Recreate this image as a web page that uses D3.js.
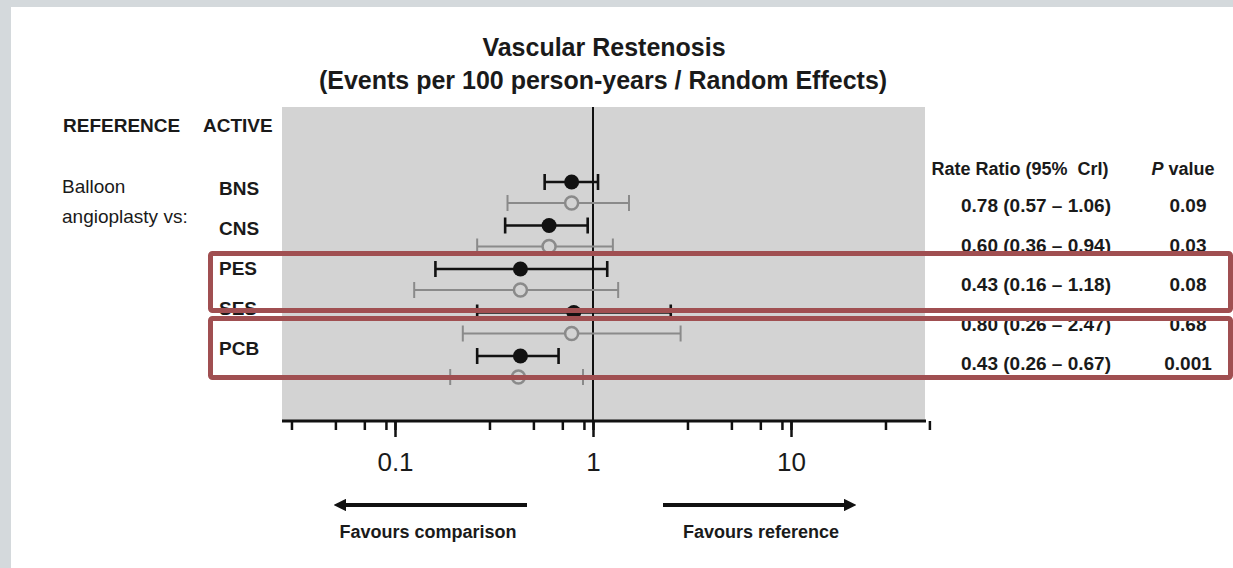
<!DOCTYPE html>
<html>
<head>
<meta charset="utf-8">
<script src="https://cdn.jsdelivr.net/npm/d3@7"></script>
<style>
  html, body { margin: 0; padding: 0; background: #fff; }
  svg { display: block; }
  text { font-family: "Liberation Sans", Arial, sans-serif; fill: #1a1a1a; }
</style>
</head>
<body>
<script>
// ---- data ----
const rows = ["BNS", "CNS", "PES", "SES", "PCB"];
const activeRR = [0.78, 0.60, 0.43, 0.80, 0.43];
const activeLo = [0.57, 0.36, 0.16, 0.26, 0.26];
const activeHi = [1.06, 0.94, 1.18, 2.47, 0.67];
const altRR = [0.78, 0.60, 0.43, 0.78, 0.42];
const altLo = [0.37, 0.26, 0.125, 0.22, 0.19];
const altHi = [1.52, 1.26, 1.34, 2.77, 0.89];
const rrText = ["0.78 (0.57 \u2013 1.06)", "0.60 (0.36 \u2013 0.94)", "0.43 (0.16 \u2013 1.18)", "0.80 (0.26 \u2013 2.47)", "0.43 (0.26 \u2013 0.67)"];
const pText = ["0.09", "0.03", "0.08", "0.68", "0.001"];
const minorTicks = [0.03, 0.05, 0.07, 0.09, 0.1, 0.3, 0.5, 0.7, 0.9, 1, 3, 5, 7, 9, 10, 30, 50];
const majorTicks = [0.1, 1, 10];
const highlightGroups = [["PES", "SES"], ["PCB"]];

// ---- layout ----
const W = 1233, H = 568;
const svg = d3.select("body").append("svg").attr("width", W).attr("height", H);

// frame strips
svg.append("rect").attr("x", 0).attr("y", 0).attr("width", W).attr("height", 7).attr("fill", "#d4d9dc");
svg.append("rect").attr("x", 0).attr("y", 0).attr("width", 11).attr("height", H).attr("fill", "#d4d9dc");

const x = d3.scaleLog().domain([0.1, 10]).range([395, 791]);
const panel = { x0: 282, x1: 925, y0: 107, y1: 421 };
const yRow = d3.scalePoint().domain(rows).range([182, 356]);
const altOffset = 21;
const yLabel = d3.scalePoint().domain(rows).range([188, 348]);
const yTable = d3.scalePoint().domain(rows).range([205, 363]);

// titles
svg.append("text").attr("x", 604).attr("y", 56).attr("text-anchor", "middle")
  .attr("font-size", 25).attr("font-weight", "bold").text("Vascular Restenosis");
svg.append("text").attr("x", 603).attr("y", 89).attr("text-anchor", "middle")
  .attr("font-size", 25).attr("font-weight", "bold").text("(Events per 100 person-years / Random Effects)");

// panel
svg.append("rect").attr("x", panel.x0).attr("y", panel.y0)
  .attr("width", panel.x1 - panel.x0).attr("height", panel.y1 - panel.y0).attr("fill", "#d3d3d3");

// left headings
svg.append("text").attr("x", 63).attr("y", 132).attr("font-size", 19).attr("font-weight", "bold").text("REFERENCE");
svg.append("text").attr("x", 203).attr("y", 132).attr("font-size", 19).attr("font-weight", "bold").text("ACTIVE");
svg.append("text").attr("x", 62).attr("y", 193).attr("font-size", 19).text("Balloon");
svg.append("text").attr("x", 62).attr("y", 223).attr("font-size", 19).text("angioplasty vs:");

svg.selectAll("text.rowlab").data(rows).enter().append("text")
  .attr("class", "rowlab")
  .attr("x", 219).attr("y", d => yLabel(d) + 7)
  .attr("font-size", 19).attr("font-weight", "bold").text(d => d);

// reference line at 1
svg.append("line").attr("x1", x(1)).attr("x2", x(1)).attr("y1", panel.y0).attr("y2", panel.y1)
  .attr("stroke", "#111").attr("stroke-width", 2);

// axis
const axisG = svg.append("g").attr("transform", `translate(0,${panel.y1})`);
axisG.append("line").attr("x1", panel.x0).attr("x2", panel.x1 + 1).attr("y1", 0).attr("y2", 0)
  .attr("stroke", "#111").attr("stroke-width", 3);
const minorAxis = d3.axisBottom(x).tickValues(minorTicks).tickSize(9).tickFormat("");
const gMinor = axisG.append("g").call(minorAxis);
gMinor.select(".domain").remove();
gMinor.selectAll(".tick line").attr("stroke", "#111").attr("stroke-width", 2.5);
const majorAxis = d3.axisBottom(x).tickValues(majorTicks).tickSize(16).tickPadding(16)
  .tickFormat(d => d3.format("~g")(d));
const gMajor = axisG.append("g").call(majorAxis);
gMajor.select(".domain").remove();
gMajor.selectAll(".tick line").attr("stroke", "#111").attr("stroke-width", 2.5);
gMajor.selectAll(".tick text")
  .style("font-family", '"Liberation Sans Narrow", "Liberation Sans", Arial, sans-serif')
  .attr("font-size", 26).attr("fill", "#222");

// error bars
function drawSeries(cls, rr, lo, hi, dy, color, sw, filled) {
  const g = svg.append("g").attr("class", cls);
  const items = rows.map((r, i) => ({ r, rr: rr[i], lo: lo[i], hi: hi[i] }));
  const cap = 8;
  g.selectAll("line.bar").data(items).enter().append("line")
    .attr("x1", d => x(d.lo)).attr("x2", d => x(d.hi))
    .attr("y1", d => yRow(d.r) + dy).attr("y2", d => yRow(d.r) + dy)
    .attr("stroke", color).attr("stroke-width", sw);
  g.selectAll("line.capL").data(items).enter().append("line")
    .attr("x1", d => x(d.lo)).attr("x2", d => x(d.lo))
    .attr("y1", d => yRow(d.r) + dy - cap).attr("y2", d => yRow(d.r) + dy + cap)
    .attr("stroke", color).attr("stroke-width", sw);
  g.selectAll("line.capR").data(items).enter().append("line")
    .attr("x1", d => x(d.hi)).attr("x2", d => x(d.hi))
    .attr("y1", d => yRow(d.r) + dy - cap).attr("y2", d => yRow(d.r) + dy + cap)
    .attr("stroke", color).attr("stroke-width", sw);
  g.selectAll("circle").data(items).enter().append("circle")
    .attr("cx", d => x(d.rr)).attr("cy", d => yRow(d.r) + dy)
    .attr("r", filled ? 7.5 : 6.5)
    .attr("fill", filled ? color : "#d3d3d3")
    .attr("stroke", color).attr("stroke-width", filled ? 0 : 2.5);
}
drawSeries("alt", altRR, altLo, altHi, altOffset, "#8a8a8a", 2, false);
drawSeries("active", activeRR, activeLo, activeHi, 0, "#111", 2.6, true);

// table
svg.append("text").attr("x", 1020).attr("y", 175).attr("text-anchor", "middle")
  .attr("font-size", 18).attr("font-weight", "bold").attr("xml:space", "preserve")
  .text("Rate Ratio (95%  CrI)");
const ph = svg.append("text").attr("x", 1183).attr("y", 175).attr("text-anchor", "middle")
  .attr("font-size", 18).attr("font-weight", "bold");
ph.append("tspan").attr("font-style", "italic").text("P");
ph.append("tspan").text(" value");

svg.selectAll("text.rr").data(rows).enter().append("text")
  .attr("class", "rr").attr("x", 1036).attr("y", d => yTable(d) + 7)
  .attr("text-anchor", "middle").attr("font-size", 19).attr("font-weight", "bold")
  .text((d, i) => rrText[i]);
svg.selectAll("text.pv").data(rows).enter().append("text")
  .attr("class", "pv").attr("x", 1188).attr("y", d => yTable(d) + 7)
  .attr("text-anchor", "middle").attr("font-size", 19).attr("font-weight", "bold")
  .text((d, i) => pText[i]);

// arrows
const defs = svg.append("defs");
defs.append("marker").attr("id", "ah").attr("viewBox", "0 0 10 10")
  .attr("refX", 5).attr("refY", 5).attr("markerWidth", 3.2).attr("markerHeight", 3.2)
  .attr("orient", "auto")
  .append("path").attr("d", "M0,0 L10,5 L0,10 Z").attr("fill", "#111");
svg.append("line").attr("x1", 527).attr("x2", 340).attr("y1", 505).attr("y2", 505)
  .attr("stroke", "#111").attr("stroke-width", 4).attr("marker-end", "url(#ah)");
svg.append("line").attr("x1", 663).attr("x2", 850).attr("y1", 505).attr("y2", 505)
  .attr("stroke", "#111").attr("stroke-width", 4).attr("marker-end", "url(#ah)");
svg.append("text").attr("x", 428).attr("y", 538).attr("text-anchor", "middle")
  .attr("font-size", 18).attr("font-weight", "bold").text("Favours comparison");
svg.append("text").attr("x", 761).attr("y", 538).attr("text-anchor", "middle")
  .attr("font-size", 18).attr("font-weight", "bold").text("Favours reference");

// highlight boxes
const boxes = [{ y0: 251, y1: 313 }, { y0: 316, y1: 380 }];
svg.selectAll("rect.hl").data(boxes).enter().append("rect")
  .attr("class", "hl")
  .attr("x", 210.5).attr("width", 1020)
  .attr("y", d => d.y0 + 2.5).attr("height", d => d.y1 - d.y0 - 5)
  .attr("rx", 2)
  .attr("fill", "none").attr("stroke", "#a04f51").attr("stroke-width", 5);
</script>
</body>
</html>
